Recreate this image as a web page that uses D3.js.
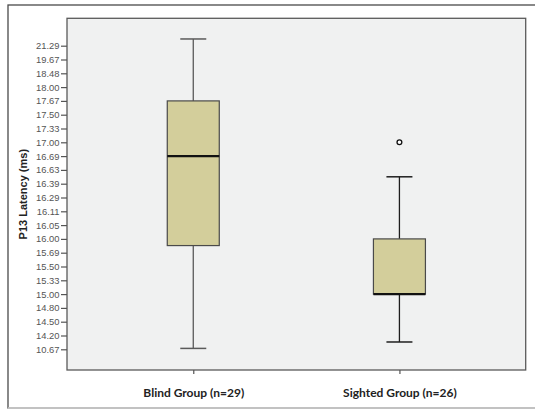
<!DOCTYPE html>
<html>
<head>
<meta charset="utf-8">
<script src="https://cdn.jsdelivr.net/npm/d3@7/dist/d3.min.js"></script>
<style>
  html, body { margin: 0; padding: 0; background: #fff; }
  svg { display: block; }
</style>
</head>
<body>
<script>
// ---- Data ----
const groups = ["Blind Group (n=29)", "Sighted Group (n=26)"];
const tickLabels = ["21.29","19.67","18.48","18.00","17.67","17.50","17.33","17.00","16.69","16.63","16.39","16.29","16.11","16.05","16.00","15.69","15.50","15.33","15.00","14.80","14.50","14.20","10.67"];
const whiskerLow  = [10.90, 12.54];
const q1          = [15.85, 15.00];
const median      = [16.69, 15.00];
const q3          = [17.67, 16.00];
const whiskerHigh = [22.08, 16.51];
const outliers    = [[], [17.00]];
const yTitle = "P13 Latency (ms)";

// ---- Layout ----
const W = 535, H = 409;
const plot = { left: 67, right: 525.7, top: 18.3, bottom: 370 };

const svg = d3.select("body").append("svg").attr("width", W).attr("height", H);

// outer frame
svg.append("rect").attr("x", 8).attr("y", 5).attr("width", 540).attr("height", 403)
  .attr("fill", "#fff").attr("stroke", "#4a4a4a").attr("stroke-width", 1.3);
svg.append("line").attr("x1", 8).attr("x2", W).attr("y1", 408).attr("y2", 408)
  .attr("stroke", "#d6d6d6").attr("stroke-width", 1.5);

// plot background
svg.append("rect").attr("x", plot.left).attr("y", plot.top)
  .attr("width", plot.right - plot.left).attr("height", plot.bottom - plot.top)
  .attr("fill", "#f0f1f1").attr("stroke", "#5a5a5a").attr("stroke-width", 1.3);

// scales
const yPoint = d3.scalePoint().domain(tickLabels).range([45.7, 349.3]);
const y = d3.scaleLinear().domain(tickLabels.map(Number)).range(tickLabels.map(yPoint));
const x = d3.scalePoint().domain(groups).range([plot.left, plot.right]).padding(0.6125);

// y axis
const yAxis = svg.append("g").attr("transform", `translate(${plot.left},0)`)
  .call(d3.axisLeft(yPoint).tickSize(6).tickPadding(1.5));
yAxis.select(".domain").remove();
yAxis.selectAll(".tick line").attr("stroke", "#555").attr("stroke-width", 1.2);
yAxis.selectAll(".tick text").attr("fill", "#555")
  .style("font-family", "'Liberation Sans', Arial, sans-serif").style("font-size", "9.4px");

// x axis
const xAxis = svg.append("g").attr("transform", `translate(0,${plot.bottom})`)
  .call(d3.axisBottom(x).tickSize(4).tickPadding(14));
xAxis.select(".domain").remove();
xAxis.selectAll(".tick line").attr("stroke", "#555").attr("stroke-width", 1.2);
xAxis.selectAll(".tick text").attr("fill", "#222")
  .style("font-family", "Lato, 'Open Sans', sans-serif").style("font-weight", "bold").style("font-size", "12px");

// y title
svg.append("text").attr("transform", `translate(26.5,${(plot.top + plot.bottom) / 2}) rotate(-90)`)
  .attr("text-anchor", "middle").attr("fill", "#222")
  .style("font-family", "'Liberation Sans', Arial, sans-serif").style("font-weight", "bold").style("font-size", "11px")
  .text(yTitle);

// boxes
const boxW = 52, capW = 26;
const whiskerColor = ["#5a5a5a", "#1e1e1e"];
const g = svg.append("g");
groups.forEach((grp, i) => {
  const cx = x(grp);
  const col = whiskerColor[i];
  // whisker stems
  g.append("line").attr("x1", cx).attr("x2", cx).attr("y1", y(whiskerHigh[i])).attr("y2", y(q3[i]))
    .attr("stroke", col).attr("stroke-width", 1.3);
  g.append("line").attr("x1", cx).attr("x2", cx).attr("y1", y(q1[i])).attr("y2", y(whiskerLow[i]))
    .attr("stroke", col).attr("stroke-width", 1.3);
  // caps
  [whiskerHigh[i], whiskerLow[i]].forEach(v => {
    g.append("line").attr("x1", cx - capW / 2).attr("x2", cx + capW / 2).attr("y1", y(v)).attr("y2", y(v))
      .attr("stroke", col).attr("stroke-width", 1.5);
  });
  // box
  g.append("rect").attr("x", cx - boxW / 2).attr("y", y(q3[i]))
    .attr("width", boxW).attr("height", y(q1[i]) - y(q3[i]))
    .attr("fill", "#d3ce9b").attr("stroke", "#4a4a4a").attr("stroke-width", 1.2);
  // median
  g.append("line").attr("x1", cx - boxW / 2).attr("x2", cx + boxW / 2).attr("y1", y(median[i])).attr("y2", y(median[i]))
    .attr("stroke", "#111").attr("stroke-width", 2.2);
  // outliers
  outliers[i].forEach(v => {
    g.append("circle").attr("cx", cx).attr("cy", y(v)).attr("r", 2.4)
      .attr("fill", "#fff").attr("stroke", "#111").attr("stroke-width", 1.3);
  });
});
</script>
</body>
</html>
